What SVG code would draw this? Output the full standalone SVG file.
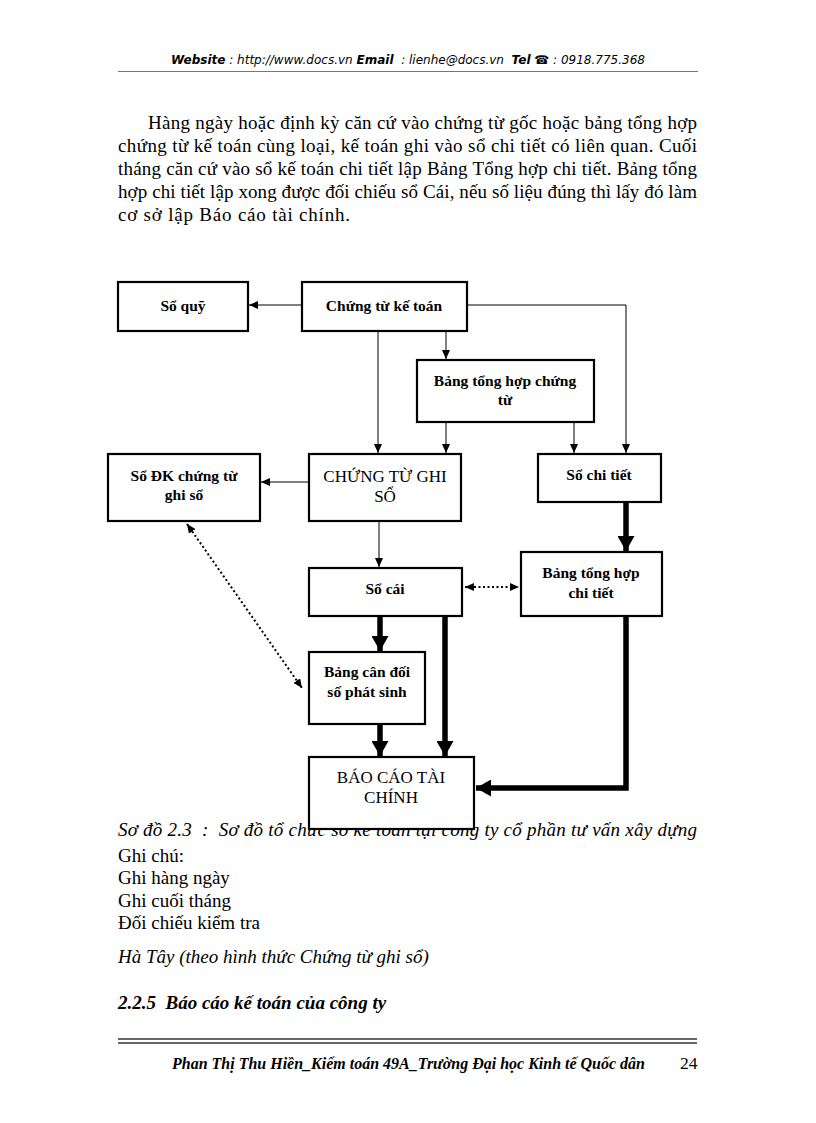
<svg xmlns="http://www.w3.org/2000/svg" width="816" height="1123" viewBox="0 0 816 1123">
<style>
.box{fill:#fff;stroke:#000;stroke-width:2.2}
.t{font-family:"Liberation Serif","Times New Roman",serif;font-size:15.5px;font-weight:bold;text-anchor:middle;fill:#000}
.tr{font-family:"Liberation Serif","Times New Roman",serif;font-size:17px;text-anchor:middle;fill:#000}
.thin{fill:none;stroke:#000;stroke-width:1}
.thick{fill:none;stroke:#000;stroke-width:5.5}
.dot{fill:none;stroke:#000;stroke-width:2;stroke-dasharray:2 2.5}
.body{font-family:"Liberation Serif","Times New Roman",serif;font-size:19px;fill:#000}
.hdr{font-family:"DejaVu Sans","Liberation Sans",sans-serif;font-size:12px;font-style:italic;fill:#000}
</style>
<defs>
<marker id="a" markerUnits="userSpaceOnUse" markerWidth="9" markerHeight="8" refX="9" refY="4" orient="auto-start-reverse"><path d="M0,0 L9,4 L0,8 z" fill="#000"/></marker>
<marker id="A" markerUnits="userSpaceOnUse" markerWidth="15" markerHeight="17" refX="15" refY="8.5" orient="auto"><path d="M0,0 L15,8.5 L0,17 z" fill="#000"/></marker>
</defs>
<rect width="816" height="1123" fill="#fff"/>
<g id="header">
<text class="hdr" x="408" y="64" text-anchor="middle" xml:space="preserve"><tspan font-weight="bold">Website</tspan> : http://www.docs.vn <tspan font-weight="bold">Email</tspan>  : lienhe@docs.vn  <tspan font-weight="bold">Tel</tspan> ☎ : 0918.775.368</text>
<line x1="118" y1="71.5" x2="698" y2="71.5" stroke="#777" stroke-width="1.2"/>
</g>
<g id="paragraph" class="body">
<text x="148" y="129" textLength="549" lengthAdjust="spacing">Hàng ngày hoặc định kỳ căn cứ vào chứng từ gốc hoặc bảng tổng hợp</text>
<text x="118" y="152" textLength="579" lengthAdjust="spacing">chứng từ kế toán cùng loại, kế toán ghi vào sổ chi tiết  có liên  quan. Cuối</text>
<text x="118" y="175" textLength="579" lengthAdjust="spacing">tháng căn cứ vào sổ kế toán chi tiết lập Bảng Tổng hợp chi tiết. Bảng tổng</text>
<text x="118" y="198" textLength="579" lengthAdjust="spacing">hợp chi tiết lập xong được đối chiếu sổ Cái, nếu số liệu  đúng thì lấy đó làm</text>
<text x="118" y="221" textLength="232" lengthAdjust="spacing">cơ sở lập Báo cáo tài chính.</text>
</g>
<g id="connectors">
<line class="thin" x1="302" y1="305" x2="249" y2="305" marker-end="url(#a)"/>
<line class="thin" x1="378" y1="331" x2="378" y2="453" marker-end="url(#a)"/>
<line class="thin" x1="446" y1="331" x2="446" y2="359" marker-end="url(#a)"/>
<polyline class="thin" points="467,305 626,305 626,453" marker-end="url(#a)"/>
<line class="thin" x1="446" y1="422" x2="446" y2="453" marker-end="url(#a)"/>
<line class="thin" x1="574" y1="422" x2="574" y2="453" marker-end="url(#a)"/>
<line class="thin" x1="309" y1="482" x2="261" y2="482" marker-end="url(#a)"/>
<line class="thin" x1="379" y1="521" x2="379" y2="567" marker-end="url(#a)"/>
<line class="dot" x1="465" y1="587" x2="519" y2="587" marker-start="url(#a)" marker-end="url(#a)"/>
<line class="dot" x1="187" y1="524" x2="302" y2="688" marker-start="url(#a)" marker-end="url(#a)"/>
<line class="thick" x1="626" y1="502" x2="626" y2="551" marker-end="url(#A)"/>
<line class="thick" x1="380" y1="616" x2="380" y2="651" marker-end="url(#A)"/>
<line class="thick" x1="380" y1="724" x2="380" y2="756" marker-end="url(#A)"/>
<line class="thick" x1="445" y1="616" x2="445" y2="756" marker-end="url(#A)"/>
<polyline class="thick" points="626,616 626,788 476,788" marker-end="url(#A)"/>
</g>
<g id="so-quy"><rect class="box" x="118" y="282" width="130" height="49"/><text class="t" x="183" y="311">Sổ quỹ</text></g>
<g id="chung-tu-ke-toan"><rect class="box" x="302" y="282" width="165" height="49"/><text class="t" x="384" y="311">Chứng từ kế toán</text></g>
<g id="bang-tong-hop-chung-tu"><rect class="box" x="417" y="360" width="177" height="62"/><text class="t" x="505" y="386">Bảng tổng hợp  chứng</text><text class="t" x="505" y="405">từ</text></g>
<g id="so-dk-chung-tu"><rect class="box" x="108" y="454" width="152" height="67"/><text class="t" x="184" y="481">Sổ ĐK chứng từ</text><text class="t" x="184" y="500">ghi  sổ</text></g>
<g id="chung-tu-ghi-so"><rect class="box" x="309" y="454" width="152" height="67"/><text class="tr" x="385" y="482">CHỨNG TỪ GHI</text><text class="tr" x="385" y="502">SỔ</text></g>
<g id="so-chi-tiet"><rect class="box" x="538" y="454" width="123" height="48"/><text class="t" x="599" y="480">Sổ chi tiết</text></g>
<g id="so-cai"><rect class="box" x="309" y="568" width="153" height="48"/><text class="t" x="385" y="594">Sổ cái</text></g>
<g id="bang-tong-hop-chi-tiet"><rect class="box" x="521" y="552" width="141" height="64"/><text class="t" x="591" y="578">Bảng tổng hợp</text><text class="t" x="591" y="598">chi tiết</text></g>
<g id="bang-can-doi"><rect class="box" x="309" y="652" width="116" height="72"/><text class="t" x="367" y="677">Bảng cân đối</text><text class="t" x="367" y="697">số phát  sinh</text></g>
<g id="caption">
<text class="body" x="118" y="836" font-style="italic" textLength="579" lengthAdjust="spacing" xml:space="preserve">Sơ đồ 2.3  :  Sơ đồ tổ chức sổ kế toán tại công ty cổ phần tư vấn xây dựng</text>
</g>
<g id="bao-cao-tai-chinh"><rect class="box" x="309" y="757" width="165" height="72"/><text class="tr" x="391" y="783">BÁO CÁO TÀI</text><text class="tr" x="391" y="803">CHÍNH</text></g>
<g id="notes" class="body">
<text x="118" y="862">Ghi chú:</text>
<text x="118" y="884">Ghi hàng ngày</text>
<text x="118" y="907">Ghi cuối tháng</text>
<text x="118" y="929">Đối chiếu kiểm tra</text>
<text x="118" y="963" font-style="italic">Hà Tây (theo hình thức Chứng từ ghi sổ)</text>
<text x="118" y="1009" font-style="italic" font-weight="bold" xml:space="preserve">2.2.5  Báo cáo kế toán của công ty</text>
</g>
<g id="footer">
<line x1="118" y1="1039" x2="697" y2="1039" stroke="#333" stroke-width="1.3"/>
<line x1="118" y1="1043" x2="697" y2="1043" stroke="#333" stroke-width="1.3"/>
<text x="172" y="1069" font-family="'Liberation Serif','Times New Roman',serif" font-size="16.5" font-style="italic" font-weight="bold" textLength="473" lengthAdjust="spacingAndGlyphs">Phan Thị Thu Hiền_Kiểm toán 49A_Trường Đại học Kinh tế Quốc dân</text>
<text x="680" y="1069" font-family="'Liberation Serif','Times New Roman',serif" font-size="17.5">24</text>
</g>
</svg>
